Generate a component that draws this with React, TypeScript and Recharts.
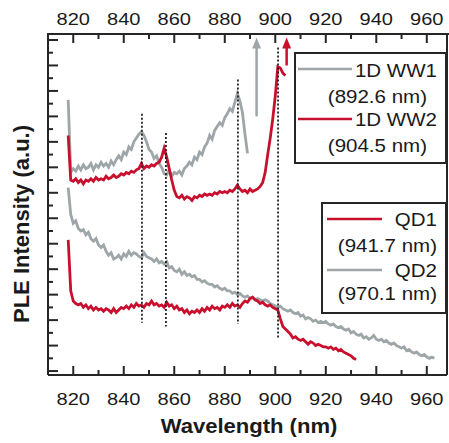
import { Line, LineChart, ReferenceLine, XAxis, YAxis } from 'recharts';

const RED = '#c8102e';
const GRAY = '#9ea6a9';
const INK = '#262626';
const FONT = '"Liberation Sans", Arial, sans-serif';

const xTicks = [820, 830, 840, 850, 860, 870, 880, 890, 900, 910, 920, 930, 940, 950, 960];
const yTicks = [0, 1, 2, 3, 4, 5, 6, 7, 8, 9, 10, 11, 12, 13, 14, 15, 16, 17, 18, 19, 20, 21, 22, 23, 24, 25, 26];
const Y_MIN = -0.31;
const Y_MAX = 26.47;

// plot box in page pixels
const BOX = { left: 48, top: 34, right: 447, bottom: 375 };

// 1D WW1 (892.6 nm), 1 nm steps from 818 nm
const ww1Start = 818;
const ww1 = [
  21.3, 15.6, 15.9, 15.7, 16.1, 15.8, 16.2, 15.9, 16.0, 16.3, 15.8, 16.2, 16.0, 16.4, 16.1, 16.3, 16.0,
  16.5, 16.2, 16.6, 16.9, 16.6, 17.2, 17.0, 17.6, 17.4, 18.0, 18.3, 18.6, 18.8, 18.5, 18.0, 17.4, 17.2,
  16.7, 16.9, 16.3, 16.0, 15.5, 15.4, 15.8, 15.3, 15.6, 15.5, 15.7, 15.4, 15.9, 16.1, 16.4, 16.2, 16.8,
  16.6, 17.2, 17.0, 17.6, 17.9, 18.5, 18.2, 18.9, 19.2, 19.5, 19.3, 19.9, 20.2, 20.6, 20.4, 21.1, 21.8,
  21.2, 20.3, 18.6, 17.1,
];

// 1D WW2 (904.5 nm)
const ww2Start = 818;
const ww2 = [
  18.5, 15.0, 14.9, 15.1, 14.8, 15.0, 14.7, 15.0, 14.9, 15.1, 14.9, 15.2, 15.0, 15.1, 15.0, 15.3, 15.1,
  15.2, 15.4, 15.2, 15.3, 15.5, 15.4, 15.6, 15.5, 15.7, 15.6, 15.8, 15.9, 16.3, 15.9, 16.1, 16.0, 16.2,
  16.1, 16.3, 16.4, 16.8, 17.5, 16.8, 15.9, 15.0, 14.2, 13.7, 13.6, 13.8, 13.5, 13.7, 13.6, 13.4, 13.7,
  13.6, 13.8, 13.7, 13.9, 13.8, 13.9, 13.8, 14.0, 13.9, 14.1, 14.0, 14.1, 14.0, 14.2, 14.1, 14.3, 14.6,
  14.3, 14.1, 14.2, 14.0, 14.3, 14.1, 14.2, 14.3, 14.5, 14.8, 15.6, 17.0, 18.3, 19.8, 21.6, 23.9, 23.8,
  23.4, 23.2,
];

// QD1 (941.7 nm)
const qd1Start = 818;
const qd1 = [
  10.3, 6.3, 5.5, 5.3, 5.2, 5.3, 5.0, 5.2, 4.9, 5.1, 4.8, 5.0, 4.8, 4.9, 4.7, 4.9, 4.8, 4.6, 4.9, 4.6,
  4.8, 5.0, 4.9, 5.1, 4.9, 5.2, 5.0, 5.3, 5.1, 5.2, 5.0, 5.3, 5.2, 5.5, 5.2, 5.3, 5.1, 5.2, 5.0, 5.4,
  5.1, 5.2, 4.9, 5.1, 4.8, 4.9, 4.6, 4.8, 4.5, 4.7, 4.6, 4.8, 4.6, 4.9, 4.7, 5.0, 4.8, 5.1, 4.9, 5.0,
  4.8, 5.1, 5.0, 5.2, 5.0, 5.3, 5.1, 5.2, 5.0, 5.3, 5.5, 5.4, 5.7, 5.8, 5.6, 5.5, 5.3, 5.4, 5.2, 5.1,
  5.2, 5.0, 4.9, 4.8, 4.1, 3.5, 3.3, 3.1, 2.9, 2.6, 2.7, 2.5, 2.4, 2.5, 2.3, 2.1, 2.3, 2.2, 2.0, 2.1,
  2.0, 1.9, 1.9, 1.8, 1.9, 1.7, 1.8, 1.6, 1.7, 1.5, 1.4, 1.3, 1.2, 1.0, 0.9,
];

// QD2 (970.1 nm)
const qd2Start = 818;
const qd2 = [
  14.4, 12.3, 11.6, 11.8, 11.2, 11.0, 11.1, 10.7, 10.9, 10.4, 10.2, 10.4, 9.9, 9.7, 9.9, 9.4, 9.1, 9.3,
  8.8, 8.9, 9.1, 8.8, 9.2, 9.0, 9.4, 9.1, 9.3, 9.2, 9.0, 8.9, 9.3, 9.0, 8.9, 8.8, 8.6, 8.8, 8.5, 8.6,
  8.4, 8.6, 8.1, 8.2, 7.9, 7.8, 8.0, 7.6, 7.8, 7.5, 7.6, 7.4, 7.5, 7.2, 7.2, 7.0, 7.1, 6.9, 6.8, 6.8,
  6.6, 6.7, 6.5, 6.4, 6.5, 6.3, 6.3, 6.1, 6.2, 6.0, 6.1, 5.9, 5.8, 5.9, 5.7, 5.8, 5.6, 5.7, 5.6, 5.5,
  5.6, 5.5, 5.3, 5.2, 5.1, 5.0, 5.1, 4.9, 4.8, 4.7, 4.8, 4.6, 4.5, 4.6, 4.3, 4.4, 4.1, 4.2, 4.1, 3.9,
  4.0, 3.8, 3.9, 3.8, 3.9, 3.7, 3.6, 3.7, 3.5, 3.4, 3.5, 3.3, 3.2, 3.3, 3.0, 3.1, 2.9, 2.8, 2.9, 2.6,
  2.7, 2.5, 2.6, 2.8, 2.5, 2.4, 2.5, 2.3, 2.4, 2.2, 2.1, 2.2, 2.0, 1.9, 1.8, 1.9, 1.6, 1.7, 1.5, 1.4,
  1.5, 1.3, 1.2, 1.3, 1.1, 1.0, 1.1, 1.0,
];

// dotted guides
const guides = [
  { nm: 847.2, top: 20.2, bottom: 3.8 },
  { nm: 856.7, top: 18.7, bottom: 3.5 },
  { nm: 885.2, top: 22.9, bottom: 3.7 },
  { nm: 901.1, top: 25.4, bottom: 2.6 },
];

const arrows = [
  { nm: 892.6, from: 20.0, to: 26.2, color: GRAY },
  { nm: 904.5, from: 24.0, to: 26.2, color: RED },
];

const toPoints = (start: number, values: number[]) => values.map((v, i) => ({ nm: start + i, v }));

const series = [
  { name: 'ww1', data: toPoints(ww1Start, ww1), color: GRAY },
  { name: 'qd2', data: toPoints(qd2Start, qd2), color: GRAY },
  { name: 'ww2', data: toPoints(ww2Start, ww2), color: RED },
  { name: 'qd1', data: toPoints(qd1Start, qd1), color: RED },
];

// bottom axis tick also draws the matching inward tick on the top edge
const BottomTick = (props: any) => {
  const { x, y, payload } = props;
  const major = payload.value % 20 === 0;
  const len = major ? 9 : 5;
  const top = y - (BOX.bottom - BOX.top);
  return (
    <g>
      <line x1={x} y1={y} x2={x} y2={y - len} stroke={INK} strokeWidth={2} />
      <rect x={x - 1} y={top} width={2} height={len} fill={INK} />
      {major && (
        <>
          <text transform={`translate(${x},${y + 30}) scale(1.18,1)`} textAnchor="middle" fontSize={17} fontFamily={FONT} fill="#1a1a1a">
            {payload.value}
          </text>
          <text transform={`translate(${x},${top - 9}) scale(1.18,1)`} textAnchor="middle" fontSize={17} fontFamily={FONT} fill="#1a1a1a">
            {payload.value}
          </text>
        </>
      )}
    </g>
  );
};

const LeftTick = (props: any) => {
  const { x, y, payload } = props;
  const major = payload.value % 2 === 0;
  return <line x1={x} y1={y} x2={x + (major ? 10 : 5)} y2={y} stroke={INK} strokeWidth={2} />;
};

const Arrow = (color: string) => (props: any) => {
  const { x1, y1, y2 } = props;
  const tip = Math.min(y1, y2);
  const base = Math.max(y1, y2);
  return (
    <g>
      <line x1={x1} y1={base} x2={x1} y2={tip + 8} stroke={color} strokeWidth={2.5} />
      <polygon points={`${x1},${tip} ${x1 - 4.5},${tip + 11} ${x1 + 4.5},${tip + 11}`} fill={color} />
    </g>
  );
};

const LegendText = ({ x, y, children }: { x: number; y: number; children: string }) => (
  <text transform={`translate(${x},${y}) scale(1.08,1)`} textAnchor="end" fontSize={19} fontFamily={FONT} fill="#1a1a1a">
    {children}
  </text>
);

const App = () => {
  return (
    <div style={{ position: 'absolute', left: 0, top: 0, width: 449, height: 443, background: '#fff' }}>
      <LineChart width={449} height={443} margin={{ top: 4, right: 2, bottom: 38, left: 18 }}>
        <XAxis
          dataKey="nm"
          type="number"
          domain={[810, 968]}
          allowDataOverflow
          ticks={xTicks}
          interval={0}
          height={30}
          tickSize={0}
          tickMargin={0}
          tickLine={false}
          tick={<BottomTick />}
          axisLine={{ stroke: INK, strokeWidth: 2 }}
        />
        <XAxis xAxisId="top" orientation="top" type="number" domain={[810, 968]} height={30} tick={false} tickLine={false} axisLine={false} />
        <YAxis
          type="number"
          domain={[Y_MIN, Y_MAX]}
          allowDataOverflow
          ticks={yTicks}
          interval={0}
          width={30}
          tickSize={0}
          tickMargin={0}
          tickLine={false}
          tick={<LeftTick />}
          axisLine={{ stroke: INK, strokeWidth: 2 }}
        />
        {series.map(s => (
          <Line
            key={s.name}
            data={s.data}
            dataKey="v"
            type="linear"
            stroke={s.color}
            strokeWidth={2.8}
            dot={false}
            isAnimationActive={false}
          />
        ))}
        {guides.map(g => (
          <ReferenceLine
            key={g.nm}
            segment={[{ x: g.nm, y: g.top }, { x: g.nm, y: g.bottom }]}
            stroke="#222"
            strokeWidth={1.8}
            strokeDasharray="2 2"
          />
        ))}
        {arrows.map(a => (
          <ReferenceLine
            key={a.nm}
            segment={[{ x: a.nm, y: a.from }, { x: a.nm, y: a.to }]}
            stroke={a.color}
            shape={Arrow(a.color)}
          />
        ))}
      </LineChart>
      <div
        style={{
          position: 'absolute',
          zIndex: 5,
          left: BOX.left - 1,
          top: BOX.top - 1,
          width: 449 - BOX.left + 1,
          height: 2,
          background: INK,
        }}
      />
      <svg width={449} height={443} style={{ position: 'absolute', left: 0, top: 0, zIndex: 6, pointerEvents: 'none' }}>
        <line x1={BOX.right} y1={BOX.top} x2={BOX.right} y2={BOX.bottom} stroke={INK} strokeWidth={2} />
        <rect x={295} y={53} width={151} height={110} fill="#fff" stroke={INK} strokeWidth={2} />
        <line x1={298} y1={69} x2={352} y2={69} stroke={GRAY} strokeWidth={2.5} />
        <LegendText x={437} y={77}>1D WW1</LegendText>
        <LegendText x={427} y={103}>(892.6 nm)</LegendText>
        <line x1={298} y1={119} x2={352} y2={119} stroke={RED} strokeWidth={2.5} />
        <LegendText x={437} y={126}>1D WW2</LegendText>
        <LegendText x={427} y={152}>(904.5 nm)</LegendText>

        <rect x={322} y={203} width={124} height={110} fill="#fff" stroke={INK} strokeWidth={2} />
        <line x1={327} y1={219} x2={382} y2={219} stroke={RED} strokeWidth={2.5} />
        <LegendText x={437} y={226}>QD1</LegendText>
        <LegendText x={437} y={252}>(941.7 nm)</LegendText>
        <line x1={327} y1={270} x2={382} y2={270} stroke={GRAY} strokeWidth={2.5} />
        <LegendText x={437} y={277}>QD2</LegendText>
        <LegendText x={437} y={300}>(970.1 nm)</LegendText>

        <text transform="translate(249,433) scale(1.05,1)" textAnchor="middle" fontSize={21} fontWeight="bold" fontFamily={FONT} fill="#1a1a1a">
          Wavelength (nm)
        </text>
        <text transform="translate(29,224) rotate(-90)" textAnchor="middle" fontSize={22} fontWeight="bold" fontFamily={FONT} fill="#1a1a1a">
          PLE Intensity (a.u.)
        </text>
      </svg>
    </div>
  );
};

export default App;
